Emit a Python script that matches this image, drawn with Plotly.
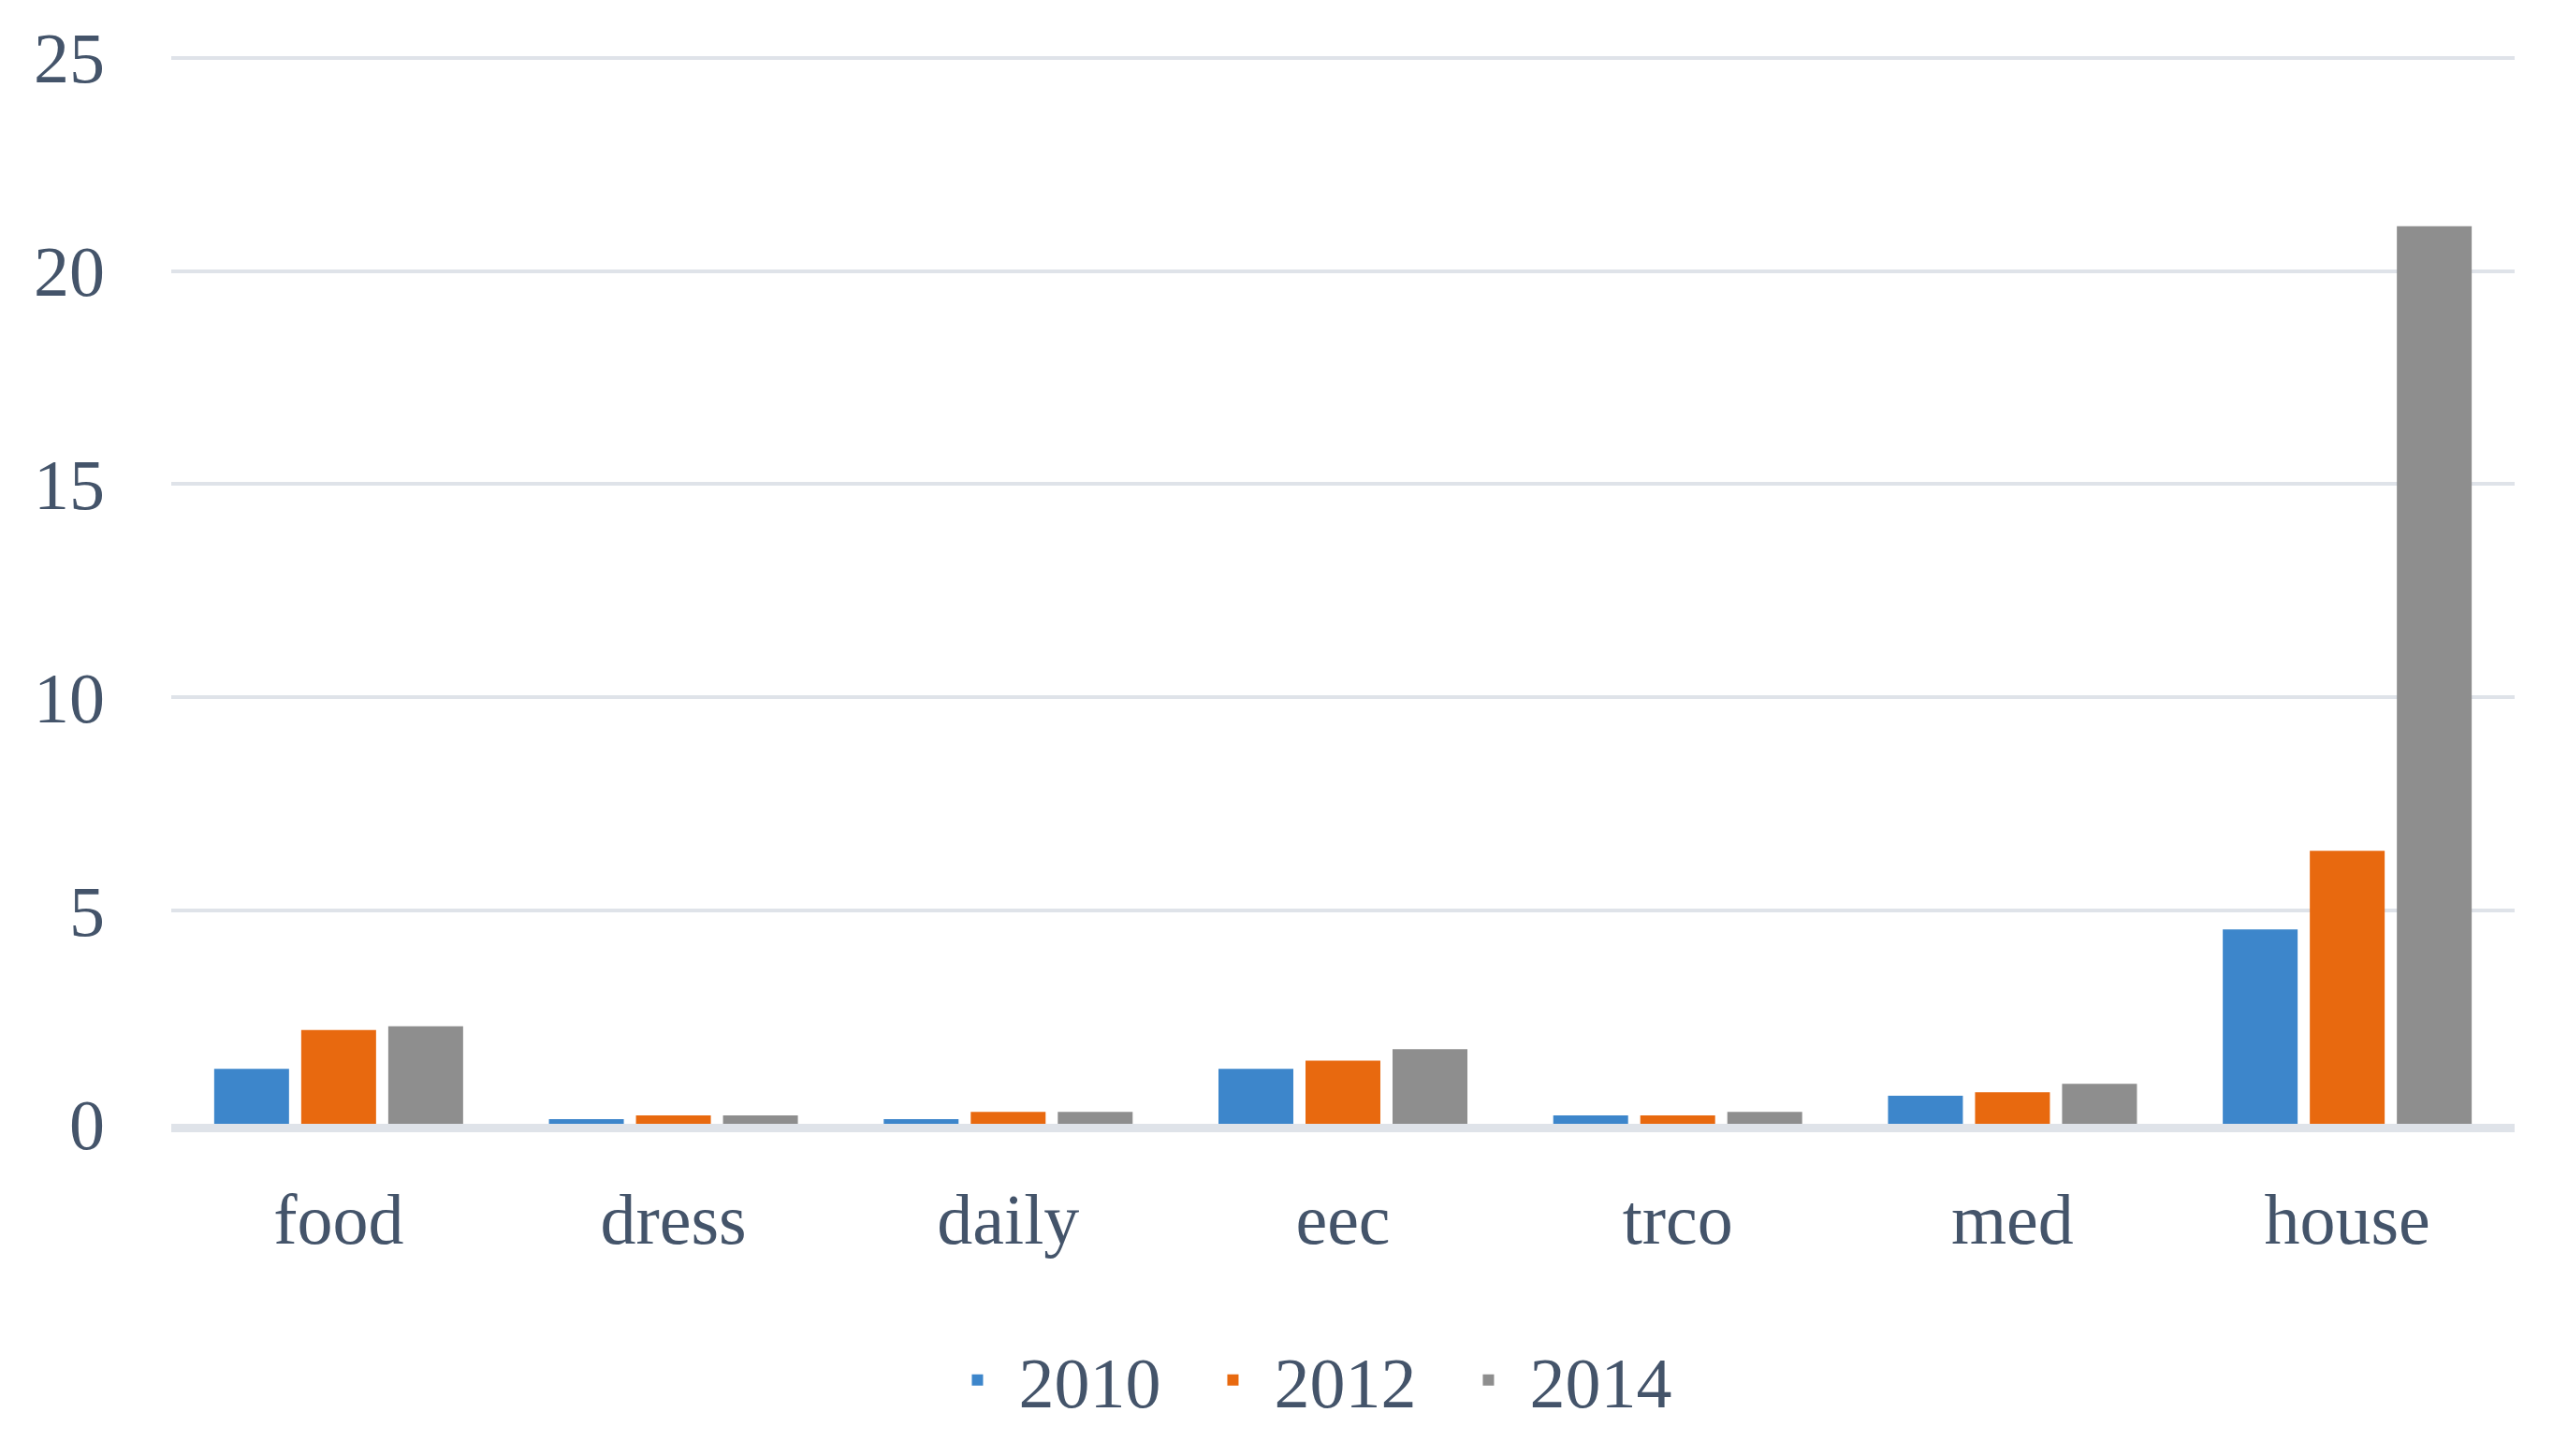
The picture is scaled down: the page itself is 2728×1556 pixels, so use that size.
import plotly.graph_objects as go

# categories on the x axis
categories = ['food', 'dress', 'daily', 'eec', 'trco', 'med', 'house']

# values per year
values_2010 = [1.29, 0.11, 0.11, 1.29, 0.20, 0.66, 4.56]
values_2012 = [2.20, 0.20, 0.28, 1.48, 0.20, 0.74, 6.40]
values_2014 = [2.29, 0.20, 0.28, 1.75, 0.28, 0.94, 21.05]

years = ['2010', '2012', '2014']
series = [values_2010, values_2012, values_2014]
colors = ['#3d86cb', '#e8690f', '#8e8e8e']

y_ticks = [0, 5, 10, 15, 20, 25]

text_color = '#44546a'
grid_color = '#dfe3e9'
font_name = 'Liberation Serif'

fig = go.Figure()

for name, vals, col in zip(years, series, colors):
    fig.add_trace(go.Bar(
        x=categories,
        y=vals,
        name=name,
        marker=dict(color=col, line=dict(width=0)),
    ))

# page body adds ~8px offset, so left/top margins are a bit smaller
fig.update_layout(
    width=2728,
    height=1556,
    template='plotly_white',
    barmode='group',
    bargap=0.22,
    bargroupgap=0.14,
    plot_bgcolor='white',
    paper_bgcolor='white',
    margin=dict(l=175, r=49, t=48, b=363),
    font=dict(family=font_name, size=76, color=text_color),
    showlegend=True,
    legend=dict(
        orientation='h',
        x=0.49,
        xanchor='center',
        y=-0.240,
        yanchor='middle',
        font=dict(family=font_name, size=76, color=text_color),
        itemwidth=78,
        entrywidth=180,
        traceorder='normal',
    ),
)

fig.update_xaxes(
    showgrid=False,
    showline=True,
    linecolor=grid_color,
    linewidth=9,
    ticks='',
    ticklabelstandoff=28,
    tickfont=dict(family=font_name, size=76, color=text_color),
)

fig.update_yaxes(
    range=[0, 25.04],
    tickvals=y_ticks,
    showgrid=True,
    gridcolor=grid_color,
    gridwidth=4,
    zeroline=False,
    showline=False,
    ticks='',
    ticklabelstandoff=70,
    tickfont=dict(family=font_name, size=76, color=text_color),
)

fig.write_html("out.html")
